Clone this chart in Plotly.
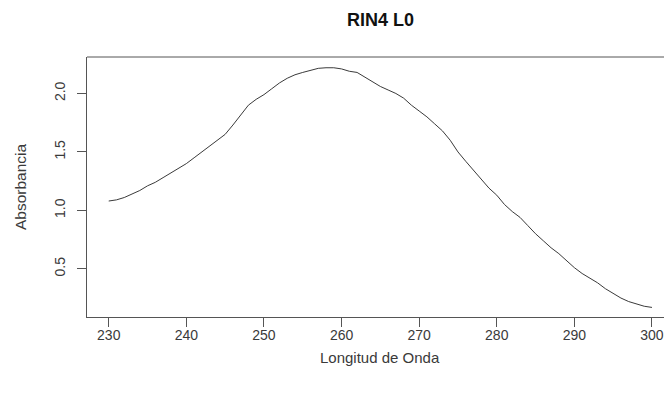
import plotly.graph_objects as go

wavelength = list(range(230, 301))
absorbance = [
    1.08, 1.09, 1.11, 1.14, 1.17, 1.21, 1.24, 1.28, 1.32, 1.36,
    1.40, 1.45, 1.50, 1.55, 1.60, 1.65, 1.73, 1.82, 1.90, 1.95,
    1.99, 2.04, 2.09, 2.13, 2.16, 2.18, 2.20, 2.215, 2.22, 2.22,
    2.21, 2.19, 2.18, 2.14, 2.10, 2.06, 2.03, 2.00, 1.96, 1.90,
    1.85, 1.80, 1.74, 1.68, 1.60, 1.50, 1.42, 1.34, 1.27, 1.19,
    1.13, 1.05, 0.99, 0.94, 0.87, 0.80, 0.74, 0.68, 0.63, 0.57,
    0.51, 0.46, 0.42, 0.38, 0.33, 0.29, 0.25, 0.22, 0.20, 0.18,
    0.17,
]
x_ticks = [230, 240, 250, 260, 270, 280, 290, 300]
y_ticks = [0.5, 1.0, 1.5, 2.0]

title_text = "RIN4 L0"
x_title = "Longitud de Onda"
y_title = "Absorbancia"

font_family = "Liberation Sans, Arial, sans-serif"
axis_col = "#555555"
text_col = "#3a3a3a"

fig = go.Figure()
fig.add_trace(go.Scatter(
    x=wavelength, y=absorbance, mode="lines",
    line=dict(color="#3a3a3a", width=1),
    showlegend=False, hoverinfo="skip",
))

fig.update_layout(
    width=664, height=395,
    margin=dict(l=87, r=0, t=57, b=78),
    paper_bgcolor="white", plot_bgcolor="white",
    font=dict(family=font_family, size=14, color=text_col),
    xaxis=dict(
        range=[227.2, 301.55], tickvals=x_ticks, ticks="outside", ticklen=9,
        ticklabelstandoff=-4,
        tickcolor=axis_col, showline=True, linecolor=axis_col, linewidth=1,
        showgrid=False, zeroline=False, mirror=False,
        tickfont=dict(size=14, color=text_col),
    ),
    yaxis=dict(
        range=[0.088, 2.312], tickvals=y_ticks, tickformat=".1f",
        ticks="outside", ticklen=9, tickangle=-90, ticklabelstandoff=6,
        tickcolor=axis_col, showline=True, linecolor=axis_col, linewidth=1,
        showgrid=False, zeroline=False, mirror=False,
        tickfont=dict(size=14, color=text_col),
    ),
    shapes=[dict(type="line", xref="paper", yref="paper", x0=0, x1=1, y0=1, y1=1,
                 line=dict(color=axis_col, width=1))],
    annotations=[
        dict(text="<b>" + title_text + "</b>", xref="paper", yref="paper",
             x=0.508, y=1 + (57 - 20) / 260, xanchor="center", yanchor="middle",
             showarrow=False, font=dict(size=18, color="#111111")),
        dict(text=x_title, xref="paper", yref="paper",
             x=0.508, y=(317 - 357) / 260, xanchor="center", yanchor="middle",
             showarrow=False, font=dict(size=15, color=text_col)),
        dict(text=y_title, xref="paper", yref="paper",
             x=(20 - 87) / 577, y=(317 - 187) / 260, xanchor="center", yanchor="middle",
             textangle=-90, showarrow=False, font=dict(size=15.5, color=text_col)),
    ],
)

fig.write_html(
    "out.html",
    config={"displayModeBar": False},
    post_script="document.body.style.margin='0';document.body.style.overflow='hidden';",
)
